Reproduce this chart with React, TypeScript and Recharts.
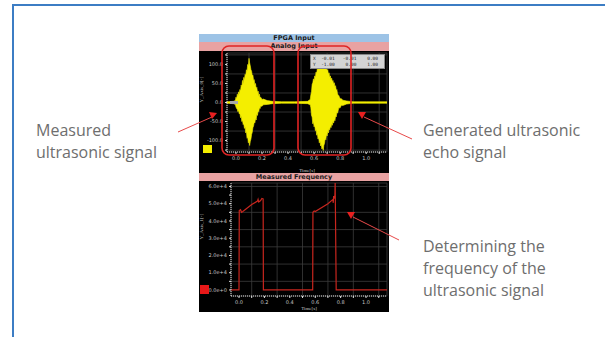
import React from 'react';
import { ComposedChart, LineChart, Area, Line, XAxis, YAxis, CartesianGrid } from 'recharts';

// analog input: envelope of the yellow ultrasonic bursts
const analogTime = [
  -0.069, -0.02, -0.005,
  0.0, 0.005, 0.01, 0.015, 0.02, 0.025, 0.03, 0.035, 0.04, 0.045, 0.05, 0.055, 0.06, 0.065, 0.07, 0.075,
  0.08, 0.085, 0.09, 0.095, 0.1, 0.105, 0.11, 0.115, 0.12, 0.125, 0.13, 0.135, 0.14, 0.145, 0.15, 0.155,
  0.16, 0.165, 0.17, 0.175, 0.18, 0.185, 0.19, 0.2, 0.21, 0.24, 0.28, 0.35, 0.45, 0.55,
  0.57, 0.575, 0.58, 0.585, 0.59, 0.595, 0.6, 0.605, 0.61, 0.615, 0.62, 0.625, 0.63, 0.635, 0.64, 0.645,
  0.65, 0.655, 0.66, 0.665, 0.67, 0.675, 0.68, 0.685, 0.69, 0.695, 0.7, 0.705, 0.71, 0.715, 0.72, 0.725,
  0.73, 0.735, 0.74, 0.745, 0.75, 0.755, 0.76, 0.765, 0.77, 0.775, 0.78, 0.79, 0.8, 0.81, 0.82, 0.85,
  0.9, 1.0, 1.16,
];
const analogHigh = [
  2, 3, 5,
  14, 10, 22, 16, 28, 22, 34, 30, 46, 40, 58, 50, 66, 60, 74, 70,
  86, 82, 100, 96, 116, 104, 96, 86, 82, 70, 72, 58, 60, 46, 50, 36,
  40, 26, 30, 18, 22, 12, 14, 8, 9, 5, 3, 2, 2, 3,
  8, 20, 28, 48, 52, 62, 58, 70, 66, 80, 76, 90, 86, 100, 96, 110,
  106, 120, 114, 122, 116, 110, 100, 104, 90, 94, 82, 86, 74, 78, 66, 70,
  60, 64, 54, 58, 48, 52, 42, 44, 32, 34, 22, 18, 10, 10, 6, 4,
  2, 2, 2,
];
const analogLow = [
  -2, -3, -5,
  -12, -16, -18, -24, -20, -30, -28, -40, -36, -50, -46, -58, -56, -68, -64, -80,
  -76, -94, -90, -106, -100, -113, -102, -96, -84, -78, -66, -62, -52, -54, -42, -46,
  -30, -34, -22, -24, -14, -16, -9, -10, -6, -5, -3, -2, -2, -3,
  -6, -14, -34, -38, -56, -50, -64, -60, -74, -70, -86, -80, -96, -92, -106, -100,
  -114, -110, -122, -118, -126, -112, -108, -94, -98, -84, -88, -76, -80, -68, -72, -62,
  -66, -56, -60, -50, -54, -44, -48, -36, -38, -26, -28, -14, -14, -7, -8, -4,
  -2, -2, -2,
];

// measured frequency
const freqTime = [
  -0.063, 0.0, 0.002, 0.012, 0.02, 0.03, 0.1, 0.145, 0.15, 0.155, 0.17, 0.18, 0.19, 0.192,
  0.58, 0.582, 0.592, 0.6, 0.7, 0.74, 0.742, 0.745, 0.748, 0.755, 0.757, 0.765, 1.165,
];
const freqValue = [
  0, 0, 46000, 46500, 45000, 45500, 49500, 51500, 52500, 51000, 51800, 53000, 52800, 0,
  0, 45000, 45800, 45500, 50000, 52500, 50500, 54500, 53000, 55000, 62500, 0, 0,
];

const timeTicks = [0, 0.1, 0.2, 0.3, 0.4, 0.5, 0.6, 0.7, 0.8, 0.9, 1.0, 1.1];
const timeLabels = ['0.0', '', '0.2', '', '0.4', '', '0.6', '', '0.8', '', '1.0', ''];
const analogTicks = [-125, -100, -75, -50, -25, 0, 25, 50, 75, 100, 125];
const analogLabels = ['', '-100.0', '', '-50.0', '', '0.0', '', '50.0', '', '100.0', ''];
const freqTicks = [0, 5000, 10000, 15000, 20000, 25000, 30000, 35000, 40000, 45000, 50000, 55000, 60000];
const freqLabels = ['0.0e+0', '', '1.0e+4', '', '2.0e+4', '', '3.0e+4', '', '4.0e+4', '', '5.0e+4', '', '6.0e+4'];

const analogData = analogTime.map((t, i) => ({ t, range: [analogLow[i], analogHigh[i]] }));
const freqData = freqTime.map((t, i) => ({ t, f: freqValue[i] }));

const tickStyle = { fill: '#c8c8c8', fontSize: 5, fontFamily: 'DejaVu Sans' };
const axisStyle = { stroke: '#e0e0e0', strokeDasharray: '1 1' };

const barStyle = (bg: string): React.CSSProperties => ({
  position: 'absolute',
  left: 199,
  width: 190,
  background: bg,
  color: '#1a1a1a',
  fontFamily: 'DejaVu Sans',
  fontWeight: 'bold',
  fontSize: 6.5,
  textAlign: 'center',
});

const noteStyle: React.CSSProperties = {
  position: 'absolute',
  fontFamily: 'Open Sans',
  fontSize: 16,
  lineHeight: '22px',
  color: '#6e6e6e',
  whiteSpace: 'nowrap',
};

export default function App() {
  return (
    <div style={{ position: 'absolute', left: 0, top: 0, width: 605, height: 337, background: '#fff', overflow: 'hidden' }}>
      <div
        style={{
          position: 'absolute', left: 12, top: 4, width: 620, height: 331,
          borderLeft: '2px solid #3c7dc4', borderTop: '2px solid #3c7dc4', borderBottom: '2px solid #3c7dc4',
        }}
      />

      <div style={{ ...barStyle('#9dc3e6'), top: 34, height: 8, lineHeight: '8px' }}>FPGA Input</div>
      <div style={{ ...barStyle('#e8a2a2'), top: 42, height: 9, lineHeight: '9px' }}>Analog Input</div>
      <div style={{ ...barStyle('#e8a2a2'), top: 173, height: 8, lineHeight: '8px' }}>Measured Frequency</div>

      <div style={{ position: 'absolute', left: 199, top: 51, width: 190, height: 122, background: '#000' }}>
        <ComposedChart width={190} height={122} data={analogData} margin={{ top: 2, right: 2, left: 0, bottom: 1 }}>
          <CartesianGrid stroke="#3c3c3c" strokeWidth={0.8} />
          <XAxis
            dataKey="t" type="number" domain={[-0.069, 1.16]} allowDataOverflow ticks={timeTicks}
            tickFormatter={(v: number) => timeLabels[timeTicks.indexOf(v)] ?? ''}
            tick={tickStyle} tickSize={2} axisLine={axisStyle} tickLine={{ stroke: '#e0e0e0' }} height={20}
            label={{ value: 'Time[s]', position: 'insideBottom', offset: 0, fill: '#c8c8c8', fontSize: 5 }}
          />
          <YAxis
            type="number" domain={[-130, 130]} allowDataOverflow ticks={analogTicks}
            tickFormatter={(v: number) => analogLabels[analogTicks.indexOf(v)] ?? ''}
            tick={tickStyle} tickSize={2} axisLine={axisStyle} tickLine={{ stroke: '#e0e0e0' }} width={28}
            label={{ value: 'Y_Axis_0[-]', angle: -90, position: 'insideLeft', offset: 2, fill: '#c8c8c8', fontSize: 5 }}
          />
          <Area
            dataKey="range" type="linear" stroke="#f4ee00" strokeWidth={0.6} fill="#f4ee00" fillOpacity={1}
            isAnimationActive={false} dot={false}
          />
        </ComposedChart>
      </div>

      <div style={{ position: 'absolute', left: 199, top: 181, width: 190, height: 131, background: '#000' }}>
        <LineChart width={190} height={131} data={freqData} margin={{ top: 2, right: 2, left: 0, bottom: 0 }}>
          <CartesianGrid stroke="#3c3c3c" strokeWidth={0.8} />
          <XAxis
            dataKey="t" type="number" domain={[-0.063, 1.165]} allowDataOverflow ticks={timeTicks}
            tickFormatter={(v: number) => timeLabels[timeTicks.indexOf(v)] ?? ''}
            tick={tickStyle} tickSize={2} axisLine={axisStyle} tickLine={{ stroke: '#e0e0e0' }} height={16}
            label={{ value: 'Time[s]', position: 'insideBottom', offset: 2, fill: '#c8c8c8', fontSize: 5 }}
          />
          <YAxis
            type="number" domain={[-3500, 62000]} allowDataOverflow ticks={freqTicks}
            tickFormatter={(v: number) => freqLabels[freqTicks.indexOf(v)] ?? ''}
            tick={tickStyle} tickSize={2} axisLine={axisStyle} tickLine={{ stroke: '#e0e0e0' }} width={32}
            label={{ value: 'Y_Axis_1[-]', angle: -90, position: 'insideLeft', offset: 2, fill: '#c8c8c8', fontSize: 5 }}
          />
          <Line dataKey="f" type="linear" stroke="#c8261e" strokeWidth={1.2} dot={false} isAnimationActive={false} />
        </LineChart>
      </div>

      <div style={{ position: 'absolute', left: 203, top: 145, width: 9, height: 8, background: '#f4ee00' }} />
      <div style={{ position: 'absolute', left: 200, top: 285, width: 9, height: 9, background: '#e81818' }} />
      <div style={{ position: 'absolute', left: 230, top: 101, width: 8, height: 3, background: '#a8a8a8' }} />

      <div
        style={{
          position: 'absolute', left: 310, top: 54, width: 75, height: 15, background: '#d4d4d4',
          border: '1px solid #888', boxSizing: 'border-box', fontFamily: 'DejaVu Sans Mono', fontSize: 4.5,
          lineHeight: '6px', color: '#222', padding: '1px 2px', whiteSpace: 'pre',
        }}
      >
        {'X  -0.01   -0.01    0.00\nY  -1.00    0.00    1.00'}
      </div>

      <svg width={605} height={337} style={{ position: 'absolute', left: 0, top: 0, pointerEvents: 'none' }}>
        <rect x={222} y={46} width={52} height={109} rx={7} fill="none" stroke="#e02424" strokeWidth={1.6} />
        <rect x={298} y={46} width={53} height={109} rx={7} fill="none" stroke="#e02424" strokeWidth={1.6} />
        <line x1={178} y1={132} x2={212} y2={117} stroke="#e84a4a" strokeWidth={1} />
        <polygon points="209,112 217,113 212,119" fill="#e82020" />
        <line x1={412} y1={139} x2={364} y2={117} stroke="#e84a4a" strokeWidth={1} />
        <polygon points="358,112 366,112 362,119" fill="#e82020" />
        <line x1={399} y1={240} x2={353} y2={217} stroke="#e84a4a" strokeWidth={1} />
        <polygon points="347,212 355,212 351,219" fill="#e82020" />
      </svg>

      <div style={{ ...noteStyle, left: 36, top: 119 }}>Measured<br />ultrasonic signal</div>
      <div style={{ ...noteStyle, left: 423, top: 119 }}>Generated ultrasonic<br />echo signal</div>
      <div style={{ ...noteStyle, left: 423, top: 235 }}>Determining the<br />frequency of the<br />ultrasonic signal</div>
    </div>
  );
}
